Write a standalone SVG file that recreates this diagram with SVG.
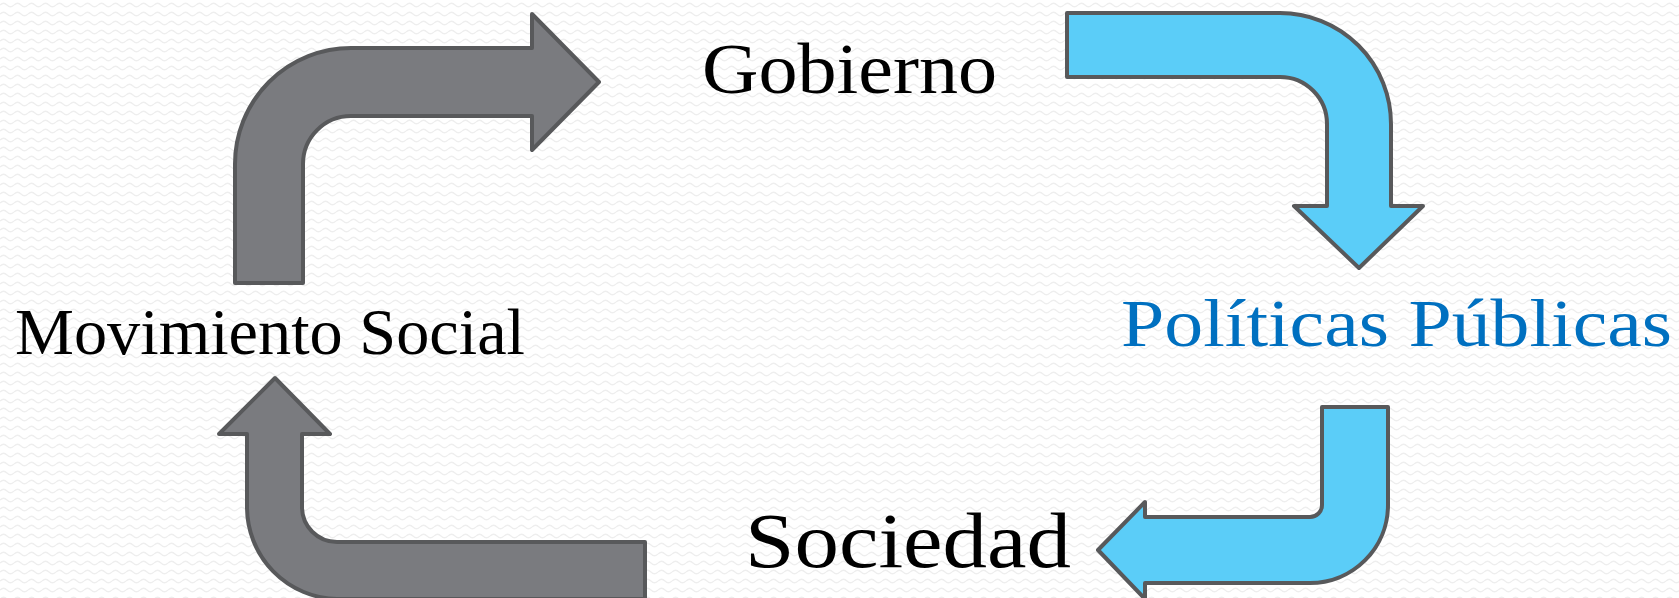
<svg xmlns="http://www.w3.org/2000/svg" width="1679" height="598" viewBox="0 0 1679 598">
<style>
.arrow{stroke:#58595b;stroke-width:4;stroke-linejoin:round}
.gray{fill:#7a7b7f}
.blue{fill:#5bcdf8}
.lbl{font-family:"Liberation Serif","DejaVu Serif",serif;fill:#000}
</style>
<defs>
<pattern id="bg" width="14" height="9" patternUnits="userSpaceOnUse">
<path d="M0 5 Q3.5 1.5 7 5 T14 5" fill="none" stroke="#eeeeee" stroke-width="1.2"/>
</pattern>
</defs>
<rect width="1679" height="598" fill="#ffffff"/>
<rect width="1679" height="598" fill="url(#bg)"/>
<g id="connectors">
<path id="arrow-mov-gob" class="arrow gray" d="M235 283 V164 A116 116 0 0 1 351 48 H532 V14 L599 82 L532 150 V116 H351 A48 48 0 0 0 303 164 V283 Z"/>
<path id="arrow-gob-pol" class="arrow blue" d="M1067 13 H1280 A111 111 0 0 1 1391 124 V206 H1423 L1359 268 L1294 206 H1327 V124 A47 47 0 0 0 1280 77 H1067 Z"/>
<path id="arrow-pol-soc" class="arrow blue" d="M1322 407 H1388 V505 A78 78 0 0 1 1310 583 H1145 V599 L1098 550 L1145 502 V517 H1310 A12 12 0 0 0 1322 505 Z"/>
<path id="arrow-soc-mov" class="arrow gray" d="M275 378 L330 434 H302 V507 A35 35 0 0 0 337 542 H645 V599 H337 A92 92 0 0 1 247 507 V434 H219 Z"/>
</g>
<g id="node-movimiento"><text class="lbl" x="15" y="354" font-size="66" textLength="510" lengthAdjust="spacingAndGlyphs">Movimiento Social</text></g>
<g id="node-gobierno"><text class="lbl" x="702" y="93" font-size="72" textLength="295" lengthAdjust="spacingAndGlyphs">Gobierno</text></g>
<g id="node-politicas"><text class="lbl" x="1121" y="346" font-size="68" style="fill:#0070c0" textLength="551" lengthAdjust="spacingAndGlyphs">Políticas Públicas</text></g>
<g id="node-sociedad"><text class="lbl" x="745" y="567" font-size="79" textLength="326" lengthAdjust="spacingAndGlyphs">Sociedad</text></g>
</svg>
